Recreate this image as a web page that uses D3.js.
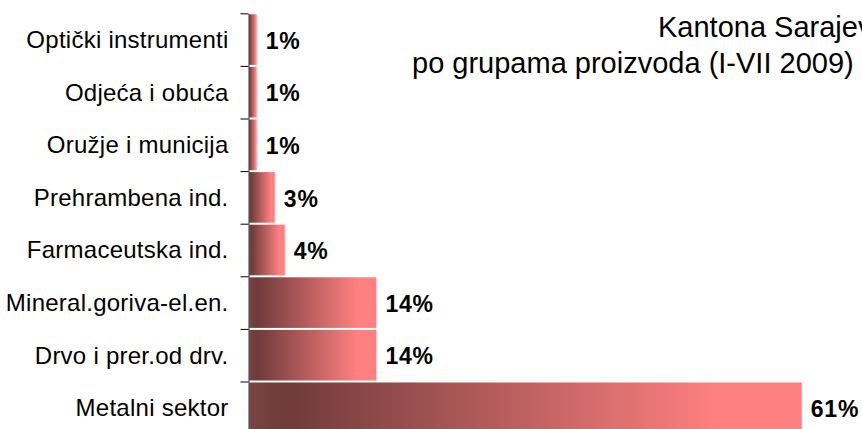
<!DOCTYPE html>
<html>
<head>
<meta charset="utf-8">
<script src="https://cdn.jsdelivr.net/npm/d3@7"></script>
<style>
  body { margin: 0; background: #fff; }
  svg { display: block; font-family: "Liberation Sans", Arial, sans-serif; }
</style>
</head>
<body>
<svg id="chart" width="862" height="429"></svg>
<script>
const categories = [
    "Optički instrumenti",
    "Odjeća i obuća",
    "Oružje i municija",
    "Prehrambena ind.",
    "Farmaceutska ind.",
    "Mineral.goriva-el.en.",
    "Drvo i prer.od drv.",
    "Metalni sektor"
];
const shares = [0.9, 0.9, 0.9, 2.9, 4.0, 14.1, 14.1, 61.0];
const titleLines = ["Kantona Sarajevo", "po grupama proizvoda (I-VII 2009)"];

const svg = d3.select("#chart");

const plot = {left: 248.5, top: 13.3, step: 52.6, pxPerPct: 9.07};

let x = d3.scaleLinear()
    .domain([0, 70])
    .range([plot.left, plot.left + 70 * plot.pxPerPct]);

let y = d3.scaleBand()
    .domain(categories)
    .range([plot.top, plot.top + categories.length * plot.step])
    .padding(0);

// boundaries between categories, for the tick marks
let yEdge = d3.scaleLinear()
    .domain([0, categories.length])
    .range(y.range());

let grad = svg.append("defs")
    .append("linearGradient")
    .attr("id", "barGrad")
    .attr("x1", "0%").attr("x2", "100%")
    .attr("y1", "0%").attr("y2", "0%");
grad.selectAll("stop")
    .data([[0, "#7b4545"], [0.06, "#6e3a3a"], [0.85, "#ff8080"], [1, "#ff8080"]])
    .join("stop")
    .attr("offset", d => d[0])
    .attr("stop-color", d => d[1]);

// title (first line is cut by the right edge, as in the source picture)
svg.append("g")
    .selectAll("text")
    .data(titleLines)
    .join("text")
    .attr("x", (d, i) => i == 0 ? 658 : 412)
    .attr("y", (d, i) => 36.5 + i * 36.5)
    .attr("font-size", 29)
    .attr("fill", "#000")
    .text(d => d);

// bars
svg.append("g")
    .selectAll("rect")
    .data(categories)
    .join("rect")
    .attr("x", x(0) + 0.5)
    .attr("y", d => y(d) + 1)
    .attr("width", (d, i) => x(shares[i]) - x(0) - 0.5)
    .attr("height", y.bandwidth() - 2)
    .attr("fill", "url(#barGrad)");

// value labels
svg.append("g")
    .selectAll("text")
    .data(categories)
    .join("text")
    .attr("x", (d, i) => x(shares[i]) + 9)
    .attr("y", d => y(d) + y.bandwidth() / 2)
    .attr("dy", "0.4em")
    .attr("font-size", 23)
    .attr("font-weight", "bold")
    .attr("letter-spacing", 0.8)
    .text((d, i) => d3.format(".0f")(shares[i]) + "%");

// axis line + boundary ticks
let axisG = svg.append("g")
    .attr("transform", `translate(${plot.left},0)`)
    .call(d3.axisLeft(yEdge)
        .tickValues(d3.range(0, categories.length + 1))
        .tickSize(8)
        .tickSizeOuter(0)
        .tickFormat(""));
axisG.select(".domain").attr("stroke", "#555").attr("stroke-width", 1.2);
axisG.selectAll(".tick line").attr("stroke", "#000");

// category labels
let labelG = svg.append("g")
    .attr("transform", `translate(${plot.left},0)`)
    .call(d3.axisLeft(y).tickSize(0).tickPadding(20));
labelG.select(".domain").remove();
labelG.selectAll("text")
    .attr("font-family", null)
    .attr("font-size", 24)
    .attr("letter-spacing", 0.25)
    .attr("fill", "#000")
    .attr("dy", "0.35em");
</script>
</body>
</html>
